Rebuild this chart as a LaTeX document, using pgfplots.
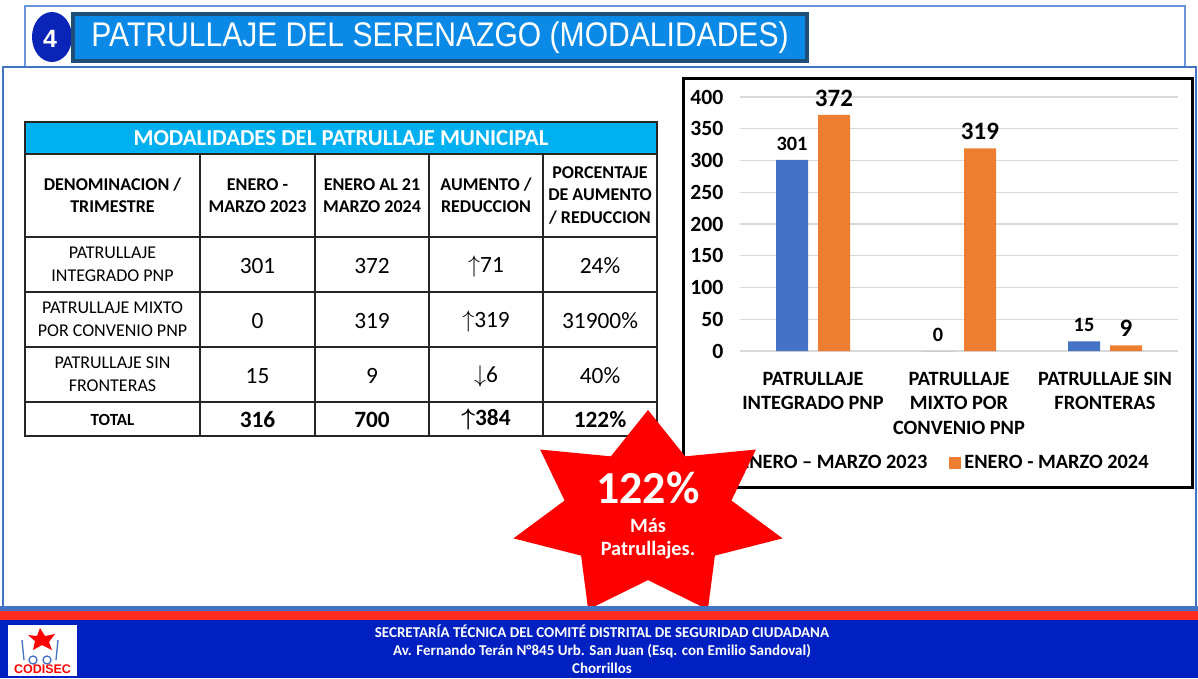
\documentclass[border=0pt]{standalone}
\usepackage{fontspec}
\setmainfont{Carlito}
\newfontfamily\arial{Liberation Sans}
\usepackage{pgfplots}
\pgfplotsset{compat=1.18}

\definecolor{barblue}{HTML}{4472C4}
\definecolor{barorange}{HTML}{ED7D31}
\definecolor{gridgray}{HTML}{D9D9D9}
\definecolor{tcyan}{HTML}{00B0F0}
\definecolor{starred}{HTML}{FF0000}
\definecolor{footred}{HTML}{FF2D20}
\definecolor{footblue}{HTML}{0020C2}
\definecolor{frameblue}{HTML}{4472C4}
\definecolor{topline}{HTML}{6A95DA}
\definecolor{titlefill}{HTML}{0A8AE6}
\definecolor{titleborder}{HTML}{1F4E79}
\definecolor{badge}{HTML}{0A24B8}
\newcommand\fs[2]{\fontsize{#1}{#2}\selectfont}
\newcommand\up{\(\uparrow\)}
\newcommand\down{\(\downarrow\)}

\begin{document}
\begin{tikzpicture}
% slide drawn in pixel units of the reference (y down)
\begin{scope}[x=0.6pt,y=-0.6pt]
\useasboundingbox (0,0) rectangle (1198,678);
\fill[white] (0,0) rectangle (1198,678);

% frames
\draw[topline, line width=0.9pt] (25,66) -- (25,6) -- (1185,6) -- (1185,66);
\draw[frameblue, line width=1.2pt] (3,67) rectangle (1196,607);

% title
\fill[badge] (52,37) ellipse [x radius=20, y radius=25];
\node[white, font=\arial\bfseries\fs{15}{18}] at (50,39) {4};
\filldraw[fill=titlefill, draw=titleborder, line width=2.4pt] (73,14) rectangle (807,61);
\node[white, font=\arial\fs{20.5}{24}] at (440,38) {\scalebox{0.88}[1]{PATRULLAJE DEL SERENAZGO (MODALIDADES)}};

% table
\fill[tcyan] (25,122) rectangle (657,154);
\node[white, font=\bfseries\fs{13.7}{16}] at (341,138) {MODALIDADES DEL PATRULLAJE MUNICIPAL};
\draw[black!85, line width=0.75pt] (25,122) rectangle (657,436);
\foreach \yy in {154,237,292,347,402} \draw[black!85, line width=0.75pt] (25,\yy) -- (657,\yy);
\foreach \xx in {200,315,429,543} \draw[black!85, line width=0.75pt] (\xx,154) -- (\xx,436);
\begin{scope}[every node/.style={align=center, font=\bfseries\fs{10.8}{13.4}}]
\node at (112.5,195.5) {DENOMINACION /\\TRIMESTRE};
\node at (257.5,195.5) {ENERO -\\MARZO 2023};
\node at (372,195.5) {ENERO AL 21\\MARZO 2024};
\node at (486,195.5) {AUMENTO /\\REDUCCION};
\node at (600,195.5) {PORCENTAJE\\DE AUMENTO\\/ REDUCCION};
\end{scope}
\begin{scope}[every node/.style={align=center, font=\fs{10.8}{13.8}}]
\node at (112.5,264.5) {PATRULLAJE\\INTEGRADO PNP};
\node at (112.5,319.5) {PATRULLAJE MIXTO\\POR CONVENIO PNP};
\node at (112.5,374.5) {PATRULLAJE SIN\\FRONTERAS};
\end{scope}
\begin{scope}[every node/.style={font=\fs{14}{16}}]
\node at (257.5,266) {301}; \node at (372,266) {372};
\node at (486,266) {\up71}; \node at (600,266) {24\%};
\node at (257.5,321) {0}; \node at (372,321) {319};
\node at (486,321) {\up319}; \node at (600,321) {31900\%};
\node at (257.5,376) {15}; \node at (372,376) {9};
\node at (486,376) {\down6}; \node at (600,376) {40\%};
\end{scope}
\node[font=\bfseries\fs{10.2}{12}] at (112.5,419.5) {TOTAL};
\begin{scope}[every node/.style={font=\bfseries\fs{14}{16}}]
\node at (257.5,419.5) {316}; \node at (372,419.5) {700};
\node at (486,419.5) {{\boldmath\up}384}; \node at (600,419.5) {122\%};
\end{scope}

% chart frame
\filldraw[fill=white, draw=black, line width=1.8pt] (683,78) rectangle (1192,487);
\end{scope}

\begin{axis}[
    at={(444pt,-210.6pt)}, anchor=south west,
    width=262.8pt, height=152.4pt, scale only axis,
    ybar=6pt, bar width=19.2pt,
    xmin=-0.5, xmax=2.5, ymin=0, ymax=400,
    xtick={0,1,2},
    xticklabels={PATRULLAJE\\INTEGRADO PNP, PATRULLAJE\\MIXTO POR\\CONVENIO PNP, PATRULLAJE SIN\\FRONTERAS},
    ytick={0,50,...,400},
    ymajorgrids, grid style={gridgray, line width=0.8pt},
    axis line style={draw=none},
    major tick length=0pt,
    /pgf/number format/assume math mode=true,
    xticklabel style={align=center, font=\bfseries\fs{12.2}{14.7}, yshift=-9pt},
    yticklabel style={font=\bfseries\fs{13}{15}, xshift=-6.5pt},
    clip=false,
    legend columns=2,
    legend style={at={(0.452,-0.441)}, anchor=center, draw=none, fill=none,
        font=\bfseries\fs{12.2}{14},
        /tikz/every even column/.append style={column sep=11pt}},
    legend image code/.code={\fill[#1] (0pt,-3.6pt) rectangle (7.2pt,3.6pt);},
]
\addplot[fill=barblue, draw=none, nodes near coords,
    nodes near coords style={black, font=\bfseries\fs{12.2}{14}, yshift=2.2pt}]
    coordinates {(0,301) (1,0) (2,15)};
\addplot[fill=barorange, draw=none, nodes near coords,
    nodes near coords style={black, font=\bfseries\fs{15}{17}, yshift=1.5pt}]
    coordinates {(0,372) (1,319) (2,9)};
\legend{ENERO – MARZO 2023, ENERO - MARZO 2024}
\end{axis}

\begin{scope}[x=0.6pt,y=-0.6pt]
% star
\fill[starred] (648,410) \foreach \k [evaluate=\k as \r using {ifthenelse(mod(\k,2)==0,1,0.62)}] in {1,...,13} {
    -- ({648+138*\r*cos(90+\k*25.7143)},{515-105*\r*sin(90+\k*25.7143)}) } -- cycle;
\node[white, font=\bfseries\fs{27.5}{30}] at (648,488) {122\%};
\node[white, font=\bfseries\fs{12.2}{13.8}, align=center] at (648,538.5) {Más\\Patrullajes.};

% footer
\fill[frameblue] (0,606) rectangle (1198,611);
\fill[footred] (0,611) rectangle (1198,620);
\fill[footblue] (0,620) rectangle (1198,678);
\node[white, font=\bfseries\fs{9}{10.8}, align=center] at (602,649)
    {SECRETARÍA TÉCNICA DEL COMITÉ DISTRITAL DE SEGURIDAD CIUDADANA\\
     Av. Fernando Terán N°845 Urb. San Juan (Esq. con Emilio Sandoval)\\
     Chorrillos};
% logo
\fill[white] (8,625) rectangle (77,676);
\fill[red] (40,628) -- (45,636) -- (55,634) -- (49,642) -- (52,650) -- (42,645) -- (33,650) -- (35,641) -- (28,635) -- (37,636) -- cycle;
\draw[barblue, line width=0.8pt] (22,640) -- (24,660) (58,640) -- (56,660);
\draw[barblue, line width=0.8pt] (33,660) circle [radius=4] (47,660) circle [radius=4];
\node[red, font=\arial\bfseries\fs{7.5}{9}] at (42.5,669) {CODISEC};
\end{scope}
\end{tikzpicture}
\end{document}
